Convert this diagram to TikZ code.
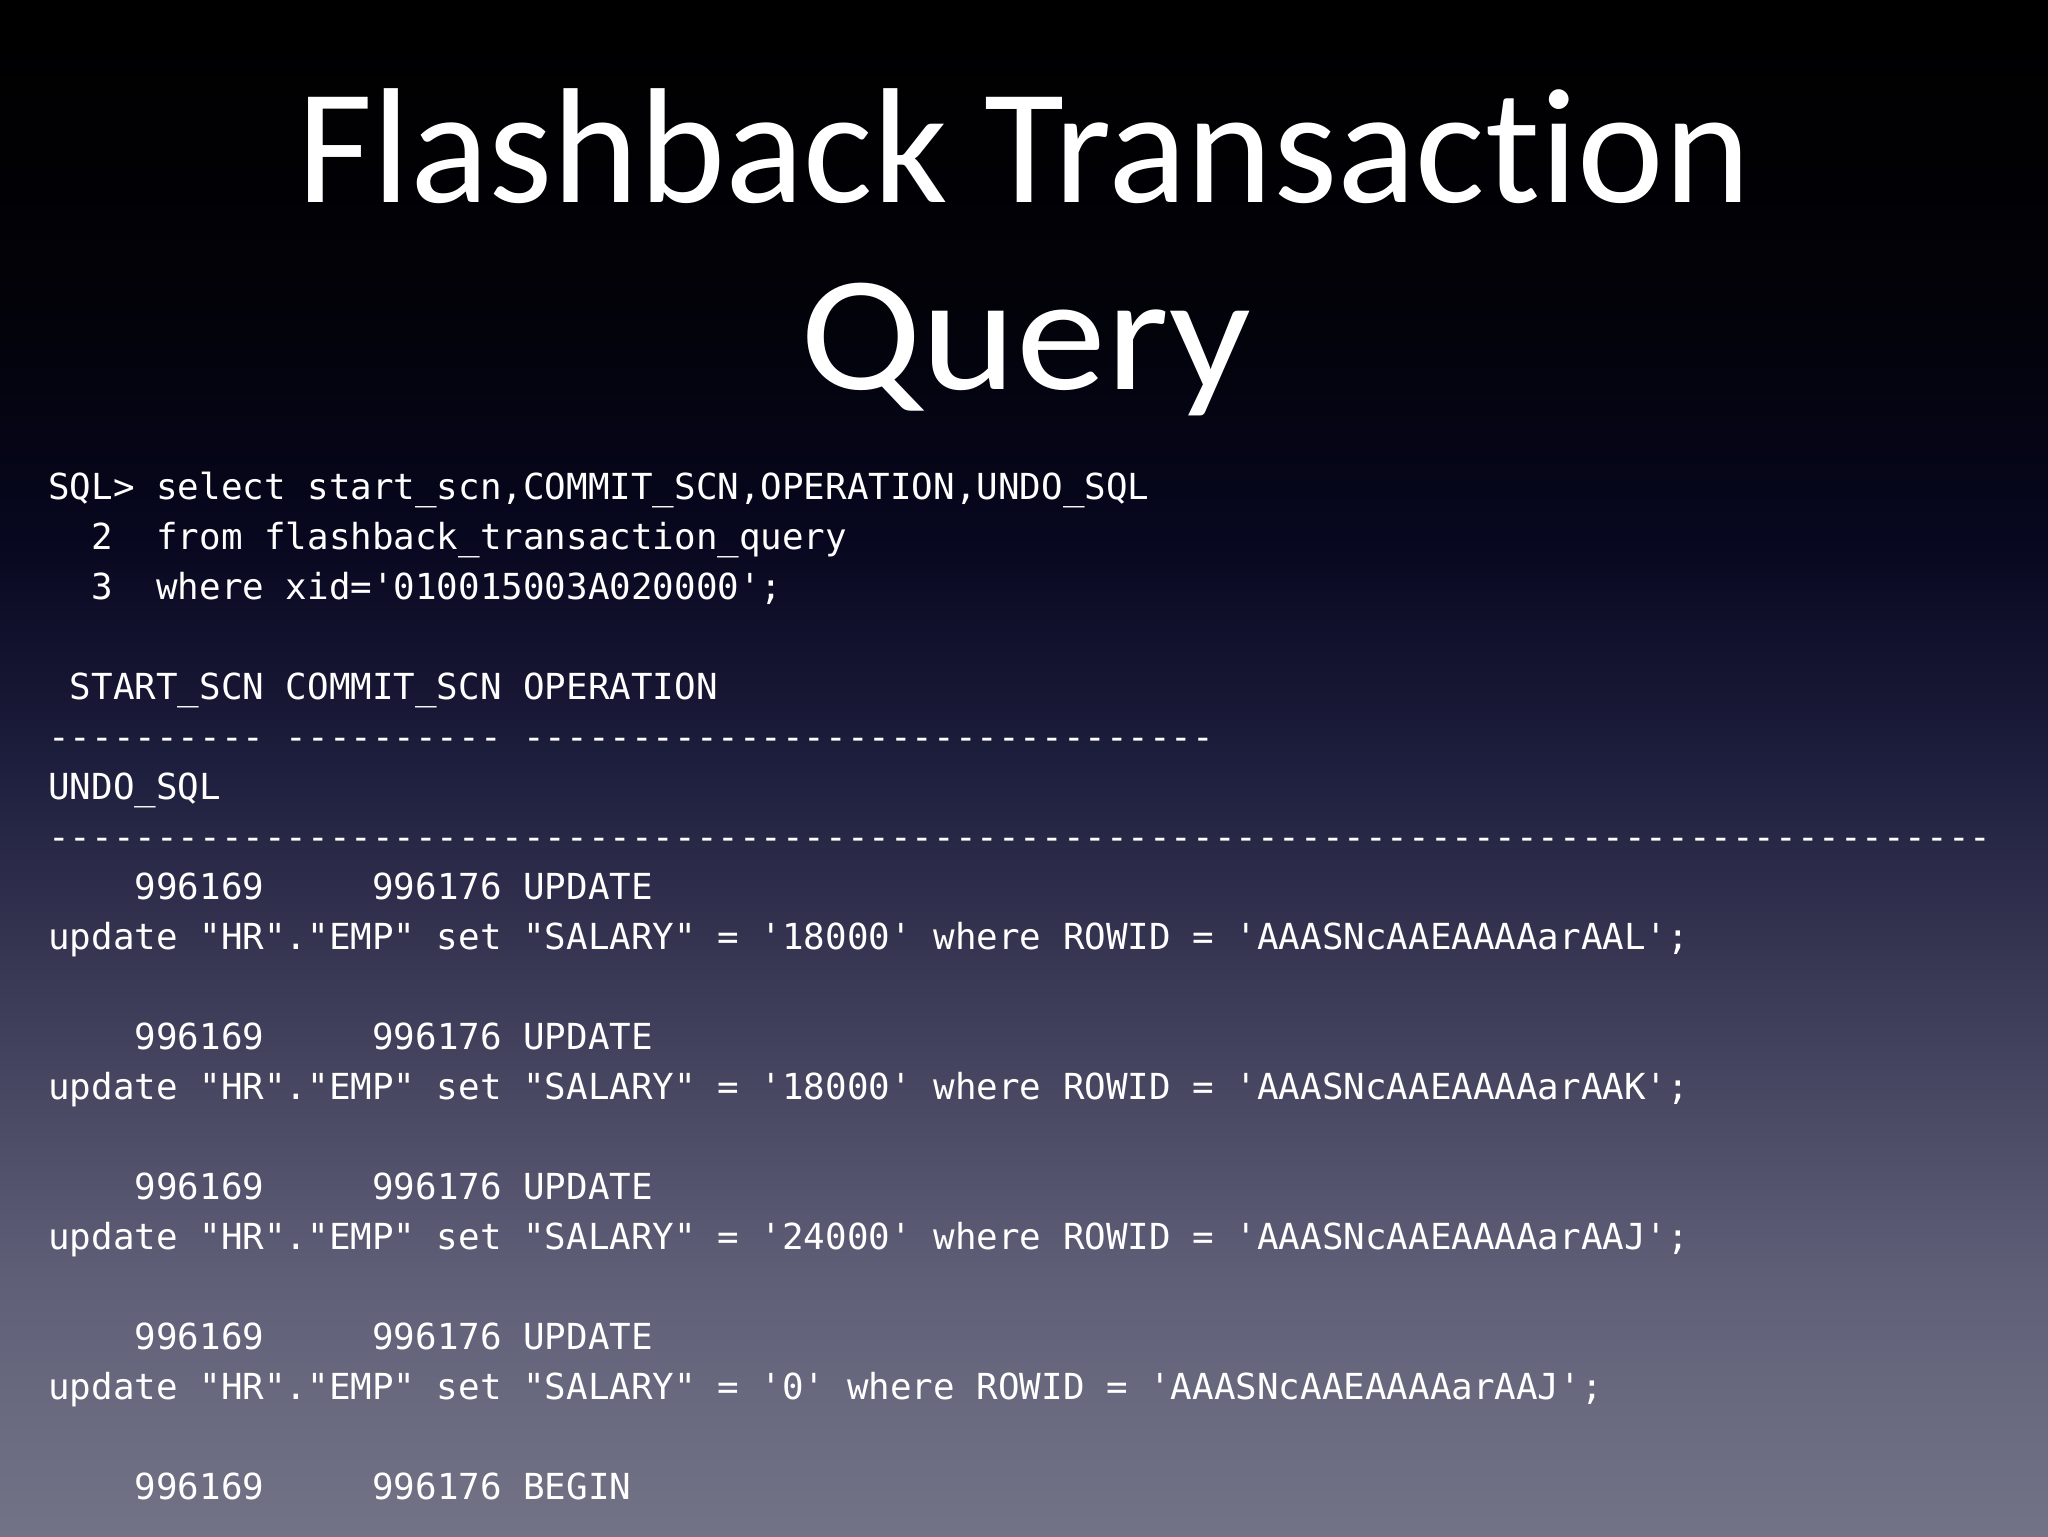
\documentclass[tikz,border=0pt]{standalone}
\usepackage{fontspec}
\setmainfont{Carlito}[Ligatures={NoCommon}]
\setmonofont{DejaVu Sans Mono}[Scale=1]
\definecolor{bg0}{HTML}{737387}
\definecolor{bg1}{HTML}{5F5F78}
\definecolor{bg2}{HTML}{3C3C58}
\definecolor{bg3}{HTML}{1E1E3E}
\definecolor{bg4}{HTML}{07071F}
\definecolor{bg5}{HTML}{020208}
\definecolor{bg6}{HTML}{000000}
\pgfdeclareverticalshading{slidebg}{1024pt}{
  color(0pt)=(bg0);
  color(128pt)=(bg1);
  color(268pt)=(bg2);
  color(384pt)=(bg3);
  color(500pt)=(bg4);
  color(620pt)=(bg5);
  color(768pt)=(bg6)}
\tikzset{
  x=0.5pt,y=-0.5pt,
  bgbox/.style={inner sep=0pt,outer sep=0pt,anchor=north west},
  titletext/.style={inner sep=0pt,anchor=base,text=white,font=\fontsize{82pt}{82pt}\selectfont},
  codeline/.style={inner sep=0pt,anchor=base west,text=white,font=\fontsize{17.93pt}{20pt}\ttfamily}
}
\begin{document}
\begin{tikzpicture}
\useasboundingbox (0,0) rectangle (2048,1536);
\node[bgbox] (bg) at (0,0) {\pgfuseshading{slidebg}};
\node[titletext] (t1) at (1024,202) {Flashback Transaction};
\node[titletext] (t2) at (1026,389) {\scalebox{1.1}[1]{Query}};
\node[codeline] (l0) at (48,499) {SQL>~select~start\_scn,COMMIT\_SCN,OPERATION,UNDO\_SQL};
\node[codeline] (l1) at (48,549) {~~2~~from~flashback\_transaction\_query};
\node[codeline] (l2) at (48,599) {~~3~~where~xid='010015003A020000';};
\node[codeline] (l4) at (48,699) {~START\_SCN~COMMIT\_SCN~OPERATION};
\node[codeline] (l5) at (48,749) {----------~----------~--------------------------------};
\node[codeline] (l6) at (48,799) {UNDO\_SQL};
\node[codeline] (l7) at (48,849) {------------------------------------------------------------------------------------------};
\node[codeline] (l8) at (48,899) {~~~~996169~~~~~996176~UPDATE};
\node[codeline] (l9) at (48,949) {update~"HR"."EMP"~set~"SALARY"~=~'18000'~where~ROWID~=~'AAASNcAAEAAAAarAAL';};
\node[codeline] (l11) at (48,1049) {~~~~996169~~~~~996176~UPDATE};
\node[codeline] (l12) at (48,1099) {update~"HR"."EMP"~set~"SALARY"~=~'18000'~where~ROWID~=~'AAASNcAAEAAAAarAAK';};
\node[codeline] (l14) at (48,1199) {~~~~996169~~~~~996176~UPDATE};
\node[codeline] (l15) at (48,1249) {update~"HR"."EMP"~set~"SALARY"~=~'24000'~where~ROWID~=~'AAASNcAAEAAAAarAAJ';};
\node[codeline] (l17) at (48,1349) {~~~~996169~~~~~996176~UPDATE};
\node[codeline] (l18) at (48,1399) {update~"HR"."EMP"~set~"SALARY"~=~'0'~where~ROWID~=~'AAASNcAAEAAAAarAAJ';};
\node[codeline] (l20) at (48,1499) {~~~~996169~~~~~996176~BEGIN};
\end{tikzpicture}
\end{document}
